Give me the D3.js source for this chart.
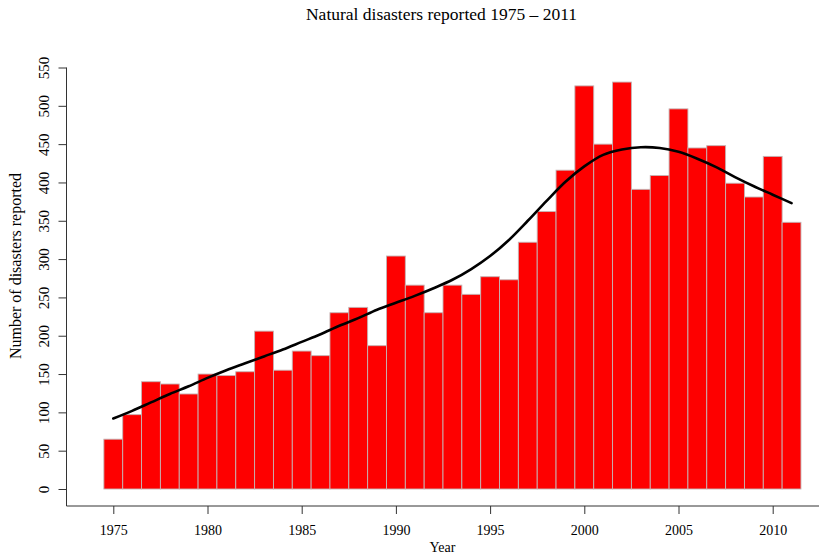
<!DOCTYPE html>
<html>
<head>
<meta charset="utf-8">
<script src="https://cdn.jsdelivr.net/npm/d3@7"></script>
<style>
  html, body { margin: 0; padding: 0; background: #fff; }
  svg { display: block; }
  text { font-family: "Liberation Serif", "Times New Roman", serif; fill: #000; }
</style>
</head>
<body>
<svg id="chart" width="819" height="554"></svg>
<script>
// Yearly counts of reported natural disasters
const years = d3.range(1975, 2012);
const reported = [65, 97, 140, 137, 124, 150, 148, 153, 206, 155,
                  180, 174, 230, 237, 187, 304, 266, 230, 266, 254,
                  277, 273, 322, 362, 416, 526, 450, 531, 391, 409,
                  496, 445, 448, 399, 381, 434, 348];
// Smoothed trend (lowess) evaluated at each year
const trend = [92, 102, 113, 124, 134, 145, 155, 164, 173, 182,
               192, 202, 213, 223, 234, 243, 252, 262, 273, 287,
               304, 325, 350, 376, 401, 421, 436, 443, 446, 445,
               440, 431, 420, 407, 395, 384, 373];
const xTicks = [1975, 1980, 1985, 1990, 1995, 2000, 2005, 2010];
const yTicks = d3.range(0, 551, 50);

const svg = d3.select("#chart");

const x = d3.scaleLinear().domain([1975, 2010]).range([113.3, 772.7]);
const y = d3.scaleLinear().domain([0, 550]).range([489, 67.5]);
const bw = x(1976) - x(1975);
const axisX = 66.5, axisY = 506;

// Title
svg.append("text")
  .attr("x", 441.5).attr("y", 19.5)
  .attr("text-anchor", "middle")
  .style("font-size", "17.5px")
  .text("Natural disasters reported 1975 \u2013 2011");

// Bars
svg.append("g").selectAll("rect")
  .data(years.map((yr, i) => ({ yr, v: reported[i] })))
  .join("rect")
  .attr("x", d => x(d.yr) - bw / 2)
  .attr("width", bw)
  .attr("y", d => y(d.v))
  .attr("height", d => y(0) - y(d.v))
  .attr("fill", "#fe0000")
  .attr("stroke", "#c4b4b4")
  .attr("stroke-width", 0.9);

// Trend line
const line = d3.line()
  .x((d, i) => x(years[i]))
  .y(d => y(d))
  .curve(d3.curveCatmullRom);
svg.append("path")
  .datum(trend)
  .attr("d", line)
  .attr("fill", "none")
  .attr("stroke", "#000")
  .attr("stroke-width", 2.6)
  .attr("stroke-linecap", "round");

// L-shaped frame
svg.append("path")
  .attr("d", `M${axisX},${y(550)}V${axisY}H819`)
  .attr("fill", "none")
  .attr("stroke", "#333")
  .attr("stroke-width", 1);

// Y axis
const gy = svg.append("g")
  .attr("transform", `translate(${axisX},0)`)
  .call(d3.axisLeft(y).tickValues(yTicks).tickSize(8).tickFormat(d3.format("d")));
gy.select(".domain").remove();
gy.selectAll("line").attr("stroke", "#333");
gy.selectAll("text")
  .attr("x", null).attr("dy", null)
  .attr("text-anchor", "middle")
  .attr("transform", "translate(-17.5,0) rotate(-90)")
  .style("font-size", "15px")
  .style("font-family", "\"Liberation Serif\", serif");

// X axis
const gx = svg.append("g")
  .attr("transform", `translate(0,${axisY})`)
  .call(d3.axisBottom(x).tickValues(xTicks).tickSize(8).tickFormat(d3.format("d")));
gx.select(".domain").remove();
gx.selectAll("line").attr("stroke", "#333");
gx.selectAll("text")
  .attr("dy", null).attr("y", 29)
  .style("font-size", "14px")
  .style("font-family", "\"Liberation Serif\", serif");

// Axis titles
svg.append("text")
  .attr("transform", "translate(21,266) rotate(-90)")
  .attr("text-anchor", "middle")
  .style("font-size", "16px")
  .text("Number of disasters reported");

svg.append("text")
  .attr("x", 442.5).attr("y", 552)
  .attr("text-anchor", "middle")
  .style("font-size", "14px")
  .text("Year");
</script>
</body>
</html>
